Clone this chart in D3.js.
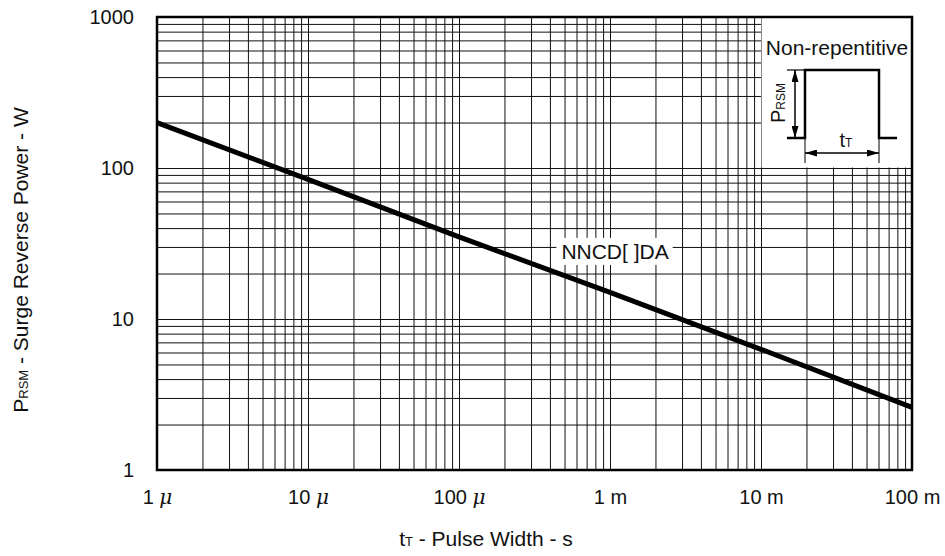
<!DOCTYPE html>
<html>
<head>
<meta charset="utf-8">
<script src="https://cdn.jsdelivr.net/npm/d3@7"></script>
<style>
  body { margin: 0; background: #fff; }
  text { font-family: "Liberation Sans", Arial, Helvetica, sans-serif; fill: #111; }
</style>
</head>
<body>
<div id="chart"></div>
<script>
// values, one per decade
const pulseWidth = [1e-6, 1e-5, 1e-4, 1e-3, 1e-2, 1e-1];
const surgePower = [200, 84, 35, 15, 6.3, 2.6];

const xTickValues = [1e-6, 1e-5, 1e-4, 1e-3, 1e-2, 1e-1];
const xTickNums = ["1", "10", "100", "1", "10", "100"];
const xTickUnits = ["μ", "μ", "μ", "m", "m", "m"];
const yTickValues = [1, 10, 100, 1000];
const yTickLabels = ["1", "10", "100", "1000"];

const width = 945, height = 556;
const margin = { top: 17, right: 33, bottom: 86, left: 157 };
const w = width - margin.left - margin.right,
      h = height - margin.top - margin.bottom;

const svg = d3.select("#chart").append("svg")
    .attr("width", width)
    .attr("height", height);

const g = svg.append("g")
    .attr("transform", `translate(${margin.left},${margin.top})`);

const x = d3.scaleLog().domain([1e-6, 1e-1]).range([0, w]);
const y = d3.scaleLog().domain([1, 1000]).range([h, 0]);

// grid (1..9 per decade)
g.append("g")
    .attr("class", "grid")
    .attr("transform", `translate(0,${h})`)
    .call(d3.axisBottom(x).tickValues(x.ticks()).tickSize(-h).tickFormat(""))
    .call(a => a.select(".domain").remove())
    .call(a => a.selectAll("line").attr("stroke", "#111").attr("stroke-width", 1));

g.append("g")
    .attr("class", "grid")
    .call(d3.axisLeft(y).tickValues(y.ticks()).tickSize(-w).tickFormat(""))
    .call(a => a.select(".domain").remove())
    .call(a => a.selectAll("line").attr("stroke", "#111").attr("stroke-width", 1));

// blank cell for the inset sketch
const ix = x(1e-2), iy = y(1000), iw = x(1e-1) - x(1e-2), ih = y(100) - y(1000);
g.append("rect")
    .attr("x", ix + 0.5).attr("y", iy)
    .attr("width", iw - 0.5).attr("height", ih - 0.5)
    .attr("fill", "#fff");

// curve
const line = d3.line()
    .x(d => x(d[0]))
    .y(d => y(d[1]));

g.append("path")
    .datum(pulseWidth.map((d, i) => [d, surgePower[i]]))
    .attr("d", line)
    .attr("fill", "none")
    .attr("stroke", "#000")
    .attr("stroke-width", 5);

// curve label
const lab = g.append("g");
const labText = lab.append("text")
    .attr("x", x(1.08e-3))
    .attr("y", y(25))
    .attr("text-anchor", "middle")
    .style("font-size", "21px")
    .text("NNCD[ ]DA");
const bb = labText.node().getBBox();
lab.insert("rect", "text")
    .attr("x", bb.x - 5).attr("y", bb.y - 2)
    .attr("width", bb.width + 9).attr("height", bb.height + 4)
    .attr("fill", "#fff");

// frame
g.append("rect")
    .attr("width", w).attr("height", h)
    .attr("fill", "none")
    .attr("stroke", "#000")
    .attr("stroke-width", 2.5);

// x tick labels
const xAxis = g.append("g")
    .attr("transform", `translate(0,${h})`)
    .call(d3.axisBottom(x).tickValues(xTickValues).tickSize(0).tickPadding(20).tickFormat(""));
xAxis.select(".domain").remove();
xAxis.selectAll(".tick text")
    .style("font-size", "20px")
    .attr("fill", "#111")
    .each(function (d, i) {
        const t = d3.select(this);
        t.append("tspan").text(xTickNums[i] + " ");
        t.append("tspan")
            .style("font-style", xTickUnits[i] === "μ" ? "italic" : "normal")
            .style("font-family", xTickUnits[i] === "μ" ? "'DejaVu Serif', serif" : null)
            .text(xTickUnits[i]);
    });

// y tick labels
const yAxis = g.append("g")
    .call(d3.axisLeft(y).tickValues(yTickValues).tickSize(0).tickPadding(23)
        .tickFormat((d, i) => yTickLabels[i]));
yAxis.select(".domain").remove();
yAxis.selectAll(".tick text")
    .style("font-size", "20px")
    .attr("fill", "#111");

// axis titles
const xTitle = svg.append("text")
    .attr("x", 486).attr("y", 546)
    .attr("text-anchor", "middle")
    .style("font-size", "21px");
xTitle.append("tspan").text("t");
xTitle.append("tspan").style("font-size", "13px").text("T");
xTitle.append("tspan").text(" - Pulse Width - s");

const yTitle = svg.append("text")
    .attr("transform", "translate(28,260) rotate(-90)")
    .attr("text-anchor", "middle")
    .style("font-size", "21px");
yTitle.append("tspan").text("P");
yTitle.append("tspan").style("font-size", "13px").text("RSM");
yTitle.append("tspan").text(" - Surge Reverse Power - W");

// inset: pulse sketch
const defs = svg.append("defs");
defs.append("marker")
    .attr("id", "arr")
    .attr("viewBox", "0 0 12 7")
    .attr("refX", 12).attr("refY", 3.5)
    .attr("markerWidth", 12).attr("markerHeight", 7)
    .attr("markerUnits", "userSpaceOnUse")
    .attr("orient", "auto-start-reverse")
    .append("path")
    .attr("d", "M0,0 L12,3.5 L0,7 Z")
    .attr("fill", "#000");

const inset = g.append("g").attr("transform", `translate(${ix},${iy})`);

inset.append("text")
    .attr("x", 76).attr("y", 38)
    .attr("text-anchor", "middle")
    .style("font-size", "21px")
    .text("Non-repentitive");

inset.append("path")
    .attr("d", "M26,121 H44 V53 H118 V121 H136")
    .attr("fill", "none")
    .attr("stroke", "#000")
    .attr("stroke-width", 2.5);

// PRSM dimension
inset.append("line")
    .attr("x1", 26).attr("x2", 44).attr("y1", 53).attr("y2", 53)
    .attr("stroke", "#000").attr("stroke-width", 1.2);
inset.append("line")
    .attr("x1", 34).attr("x2", 34).attr("y1", 53).attr("y2", 121)
    .attr("stroke", "#000").attr("stroke-width", 1.5)
    .attr("marker-start", "url(#arr)").attr("marker-end", "url(#arr)");
const pl = inset.append("text")
    .attr("transform", "translate(24,86) rotate(-90)")
    .attr("text-anchor", "middle")
    .style("font-size", "20px");
pl.append("tspan").text("P");
pl.append("tspan").style("font-size", "12px").text("RSM");

// tT dimension
inset.append("line")
    .attr("x1", 44).attr("x2", 44).attr("y1", 121).attr("y2", 146)
    .attr("stroke", "#000").attr("stroke-width", 1);
inset.append("line")
    .attr("x1", 118).attr("x2", 118).attr("y1", 121).attr("y2", 146)
    .attr("stroke", "#000").attr("stroke-width", 1);
inset.append("line")
    .attr("x1", 44).attr("x2", 118).attr("y1", 136).attr("y2", 136)
    .attr("stroke", "#000").attr("stroke-width", 1.5)
    .attr("marker-start", "url(#arr)").attr("marker-end", "url(#arr)");
const tl = inset.append("text")
    .attr("x", 85).attr("y", 130)
    .attr("text-anchor", "middle")
    .style("font-size", "20px");
tl.append("tspan").text("t");
tl.append("tspan").style("font-size", "12px").text("T");
</script>
</body>
</html>
